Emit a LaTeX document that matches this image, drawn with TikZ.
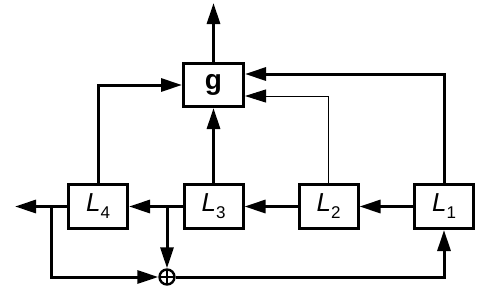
\documentclass[tikz,border=0pt]{standalone}
\usepackage{fontspec}
\setmainfont{Liberation Sans}
\usetikzlibrary{arrows.meta}
\newcommand{\Lsub}[1]{\textit{L}\raisebox{-3.5pt}{\fontsize{8.5}{9}\selectfont #1}}
\begin{document}
\begin{tikzpicture}[x=0.5pt,y=-0.5pt,
  blk/.style={draw,line width=1.5pt,minimum width=29.5pt,minimum height=22pt,inner sep=0pt,font=\fontsize{13}{15}\selectfont},
  ln/.style={line width=1.5pt},
  arr/.style={line width=1.5pt,-{Triangle[length=10.5pt,width=6.5pt]}},
  tarr/.style={line width=0.5pt,-{Triangle[length=10.5pt,width=6.5pt]}},
  sumnode/.style={draw,circle,line width=1.2pt,minimum size=7.5pt,inner sep=0pt,
    path picture={\draw[line width=1.2pt] (path picture bounding box.north) -- (path picture bounding box.south) (path picture bounding box.west) -- (path picture bounding box.east);}}]
\useasboundingbox (0,0) rectangle (491,290);
\node[blk,minimum width=30pt,minimum height=21.5pt,font=\fontsize{14}{16}\selectfont] (g) at (213.5,85) {\textbf{g}};
\node[blk] (L4) at (98,206.5) {\Lsub{4}};
\node[blk] (L3) at (213.5,206.5) {\Lsub{3}};
\node[blk] (L2) at (328.5,206.5) {\Lsub{2}};
\node[blk] (L1) at (444,206.5) {\Lsub{1}};
\node[sumnode] (sum) at (167,277) {};
\coordinate (top) at (213.5,3);
\coordinate (out) at (15,206.5);
\coordinate (j4) at (51,206.5);
\coordinate (j34) at (167,206.5);
\draw[arr] (g.north) -- (top);
\draw[arr] (L1.west) -- (L2.east);
\draw[arr] (L2.west) -- (L3.east);
\draw[arr] (L3.west) -- (L4.east);
\draw[arr] (L4.west) -- (out);
\draw[arr] (L3.north) -- (g.south);
\draw[arr] (L4.north) |- (g.west);
\draw[arr] (L1.north) |- ([yshift=5.5pt]g.east);
\draw[tarr] (L2.north) |- ([yshift=-5.5pt]g.east);
\draw[arr] (j34) -- (sum.north);
\draw[arr] (j4) |- (sum.west);
\draw[arr] (sum.east) -| (L1.south);
\end{tikzpicture}
\end{document}
